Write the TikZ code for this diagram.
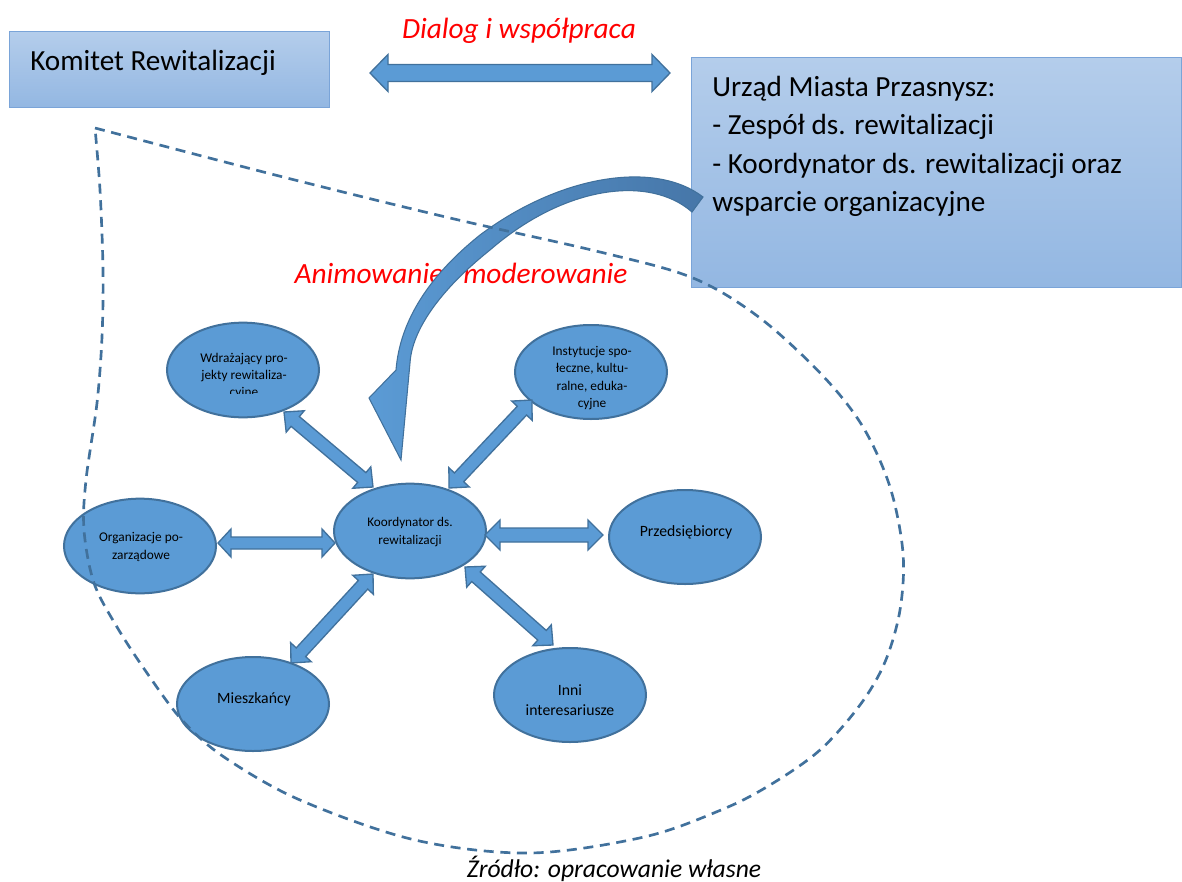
\documentclass[tikz,border=0pt]{standalone}
\usepackage{fontspec}
\setmainfont{Carlito}
\usetikzlibrary{shapes.geometric,calc}
\definecolor{ellfill}{HTML}{5B9BD5}
\definecolor{elldraw}{HTML}{41719C}
\definecolor{boxtop}{HTML}{B4CDEB}
\definecolor{boxbot}{HTML}{93B7E2}
\definecolor{boxdraw}{HTML}{7AA4D8}
\definecolor{arrdark}{HTML}{4676A8}
\definecolor{redlab}{HTML}{FF0000}
\newcommand\dblarrow[5]{%
 \coordinate (tmpP) at ($(#1)!#5!(#2)$);
 \coordinate (tmpQ) at ($(#2)!#5!(#1)$);
 \path[blockarrow] (#1) -- ($(tmpP)!#4!90:(#2)$) -- ($(tmpP)!#3!90:(#2)$)
   -- ($(tmpQ)!#3!-90:(#1)$) -- ($(tmpQ)!#4!-90:(#1)$) -- (#2)
   -- ($(tmpQ)!#4!90:(#1)$) -- ($(tmpQ)!#3!90:(#1)$)
   -- ($(tmpP)!#3!-90:(#2)$) -- ($(tmpP)!#4!-90:(#2)$) -- cycle;}
\tikzset{
  ell/.style={ellipse, fill=ellfill, draw=elldraw, line width=1.5pt, inner sep=0pt,
    minimum width=114pt, minimum height=71pt},
  stxt/.style={align=center, inner sep=0pt, font=\fontsize{10}{13}\selectfont},
  mtxt/.style={align=center, inner sep=0pt, font=\fontsize{11.8}{15}\selectfont},
  bigbox/.style={rectangle, anchor=north west, top color=boxtop, bottom color=boxbot,
    draw=boxdraw, line width=1pt, inner sep=0pt},
  bigtxt/.style={inner sep=0pt, font=\fontsize{21.9}{28.7}\selectfont},
  redtxt/.style={inner sep=0pt, text=redlab, font=\itshape\fontsize{22}{26}\selectfont},
  blockarrow/.style={fill=ellfill, draw=elldraw, line width=1pt, line join=miter},
  dashline/.style={draw=elldraw, line width=2pt, dash pattern=on 7.5pt off 5pt}
}
\begin{document}
\begin{tikzpicture}[x=0.75pt, y=-0.75pt]
\useasboundingbox (0,0) rectangle (1182,882);
\fill[white] (0,0) rectangle (1182,882);

% boxes
\node[bigbox, minimum width=240pt, minimum height=57pt] (kom) at (9,31) {};
\node[bigtxt, anchor=base west] (komT) at (30,70) {Komitet Rewitalizacji};
\node[bigbox, minimum width=367.5pt, minimum height=172.5pt] (urz) at (691,57) {};
\node[bigtxt, anchor=north west, align=left] (urzT) at (712,76)
  {Urząd Miasta Przasnysz:\\- Zespół ds. rewitalizacji\\- Koordynator ds. rewitalizacji oraz\\wsparcie organizacyjne};

% red labels
\node[redtxt, anchor=base] (dialog) at (519,38) {Dialog i współpraca};
\node[redtxt, anchor=base] (anim) at (461,283) {Animowanie i moderowanie};

% top double arrow
\coordinate (t1) at (370,73);
\coordinate (t2) at (670,73);
\dblarrow{t1}{t2}{6.4pt}{13.9pt}{13.5pt}

% curved arrow from the office box
\shadedraw[left color=ellfill, right color=arrdark, draw=elldraw, line width=0.8pt]
  (703,197) .. controls (655,160) and (560,175) .. (480,235)
  .. controls (430,275) and (400,320) .. (396,370)
  -- (369,398) -- (401,460) -- (410,363)
  .. controls (412,330) and (440,290) .. (490,250)
  .. controls (565,185) and (650,175) .. (692,212) -- cycle;

% ellipses
\node[ell] (wdr) at (243,370) {};
\node[ell, minimum height=70.5pt] (inst) at (591,372) {};
\node[ell] (koord) at (410,531) {};
\node[ell] (org) at (140,546) {};
\node[ell, minimum height=70.5pt] (prz) at (685,537) {};
\node[ell, minimum height=70.5pt] (mie) at (253,704) {};
\node[ell, minimum height=70.5pt] (inni) at (570,695) {};

% ellipse texts
\begin{scope}
  \clip (160,330) rectangle (330,393);
  \node[stxt] (wdrT) at (244,376) {Wdrażający pro-\\jekty rewitaliza-\\cyjne};
\end{scope}
\begin{scope}
  \clip (510,330) rectangle (670,409);
  \node[stxt] (instT) at (592,378) {Instytucje spo-\\łeczne, kultu-\\ralne, eduka-\\cyjne};
\end{scope}
\node[stxt, font=\fontsize{9.9}{13.5}\selectfont] (koordT) at (410,532) {Koordynator ds.\\rewitalizacji};
\node[stxt] (orgT) at (141,547) {Organizacje po-\\zarządowe};
\node[mtxt] (przT) at (686,532) {Przedsiębiorcy};
\node[mtxt] (mieT) at (254,699) {Mieszkańcy};
\node[mtxt] (inniT) at (570,700) {Inni\\interesariusze};

% double arrows between ellipses
\coordinate (w1) at (284,412);  \coordinate (w2) at (373,487);
\coordinate (i1) at (532,400);  \coordinate (i2) at (449,488);
\coordinate (o1) at (218,543);  \coordinate (o2) at (335,543);
\coordinate (p1) at (485,535);  \coordinate (p2) at (603,535);
\coordinate (m1) at (291,663);  \coordinate (m2) at (373,574);
\coordinate (n1) at (465,567);  \coordinate (n2) at (553,645);
\dblarrow{w1}{w2}{4.8pt}{10.5pt}{11pt}
\dblarrow{i1}{i2}{4.8pt}{10.5pt}{11pt}
\dblarrow{o1}{o2}{4.5pt}{10.5pt}{9.75pt}
\dblarrow{p1}{p2}{5.25pt}{11.25pt}{11.25pt}
\dblarrow{m1}{m2}{4.8pt}{10.5pt}{11pt}
\dblarrow{n1}{n2}{4.8pt}{10.5pt}{11pt}

% dashed boundary
\draw[dashline] plot[smooth, tension=0.55] coordinates {
 (95,128) (283,177) (450,218) (600,252) (693,278) (760,318) (823,376) (863,427)
 (890,487) (903,553) (900,610) (885,662) (860,705) (820,750) (770,785) (721,810)
 (644,837) (530,853) (415,840) (300,800) (224,757) (182,720) (147,673) (117,627)
 (94,583) (84,530) (86,480) (97,403) (102,337) (103,270) (100,190) (95,128)};

% source
\node[inner sep=0pt, font=\itshape\fontsize{19.2}{22}\selectfont, anchor=base] (src) at (614,877) {Źródło: opracowanie własne};
\end{tikzpicture}
\end{document}
